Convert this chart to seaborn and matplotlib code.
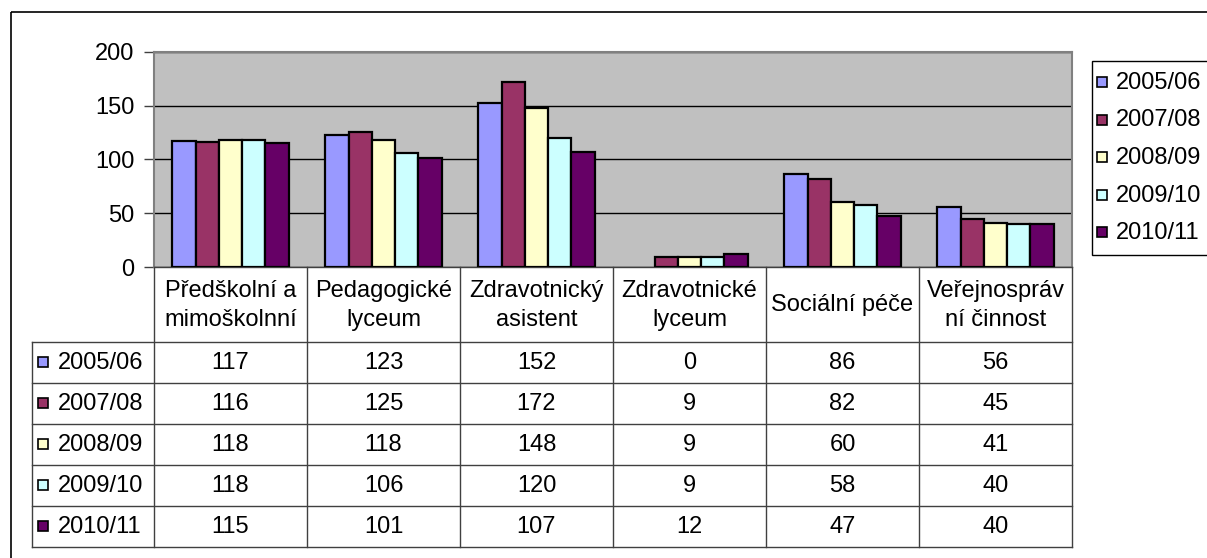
import pandas as pd
import matplotlib.pyplot as plt
import seaborn as sns
from matplotlib.patches import Rectangle

# Data
categories = ["Předškolní a\nmimoškolnní", "Pedagogické\nlyceum", "Zdravotnický\nasistent",
              "Zdravotnické\nlyceum", "Sociální péče", "Veřejnospráv\nní činnost"]
years = ["2005/06", "2007/08", "2008/09", "2009/10", "2010/11"]
v_2005 = [117, 123, 152, 0, 86, 56]
v_2007 = [116, 125, 172, 9, 82, 45]
v_2008 = [118, 118, 148, 9, 60, 41]
v_2009 = [118, 106, 120, 9, 58, 40]
v_2010 = [115, 101, 107, 12, 47, 40]
yticks = [0, 50, 100, 150, 200]
colors = ["#9999FF", "#993366", "#FFFFCC", "#CCFFFF", "#660066"]

series = [v_2005, v_2007, v_2008, v_2009, v_2010]
d = pd.DataFrame([(c, y, v) for y, vals in zip(years, series) for c, v in zip(categories, vals)],
                 columns=["obor", "rok", "pocet"])

plt.rcParams['font.family'] = ['Liberation Sans', 'DejaVu Sans']
FS = 17

W, H = 1207, 558
fig = plt.figure(figsize=(W / 100, H / 100), dpi=100)

# plot area in pixels
L, R, T, B = 154, 1072, 51.7, 267
ax = fig.add_axes([L / W, 1 - B / H, (R - L) / W, (B - T) / H])
ax.set_facecolor("#C0C0C0")
sns.barplot(data=d, x="obor", y="pocet", hue="rok", palette=colors, saturation=1,
            width=0.76, edgecolor="black", linewidth=1.6, legend=False, ax=ax, zorder=3)
# zero-height bars are not drawn in the original
for p in ax.patches:
    if p.get_height() == 0:
        p.set_visible(False)
ax.set_xlim(-0.5, len(categories) - 0.5)
ax.set_ylim(0, 200)
ax.set_yticks(yticks)
ax.set_yticklabels([str(t) for t in yticks], fontsize=FS)
ax.set_xticks([])
ax.set_xlabel("")
ax.set_ylabel("")
ax.grid(axis="y", color="black", linewidth=1, zorder=1)
ax.set_axisbelow(True)
ax.tick_params(axis="y", length=7, width=1, pad=7, color="#404040")
for s in ["top", "right", "left"]:
    ax.spines[s].set_color("#808080")
    ax.spines[s].set_linewidth(1.5)
ax.spines["bottom"].set_color("#404040")
ax.spines["bottom"].set_linewidth(1)

# overlay in pixel coordinates for table, legend and frame
ov = fig.add_axes([0, 0, 1, 1])
ov.set_xlim(0, W)
ov.set_ylim(H, 0)
ov.axis("off")

lc = "#404040"
cw = (R - L) / len(categories)
hdr_b = 341.7
row_h = 41
tab_b = hdr_b + row_h * len(years)
tab_l = 31.5

# vertical lines
for i in range(len(categories) + 1):
    x = L + i * cw
    ov.plot([x, x], [B, tab_b], color=lc, lw=1)
ov.plot([tab_l, tab_l], [hdr_b, tab_b], color=lc, lw=1)
# horizontal lines
for j in range(len(years) + 1):
    y = hdr_b + j * row_h
    ov.plot([tab_l, R], [y, y], color=lc, lw=1)

# category headers
for i, c in enumerate(categories):
    ov.text(L + (i + 0.5) * cw, (B + hdr_b) / 2 + 1, c, ha="center", va="center",
            fontsize=FS, linespacing=1.45)

# rows
for j, (yr, vals, col) in enumerate(zip(years, series, colors)):
    yc = hdr_b + (j + 0.5) * row_h
    ov.add_patch(Rectangle((38, yc - 5), 10, 10, facecolor=col, edgecolor="black", lw=1.2))
    ov.text(58, yc + 1, yr, ha="left", va="center", fontsize=FS)
    for i, v in enumerate(vals):
        ov.text(L + (i + 0.5) * cw, yc + 1, str(v), ha="center", va="center", fontsize=FS)

# legend
ov.add_patch(Rectangle((1092, 61), 200, 194, facecolor="white", edgecolor="black", lw=1))
for j, (yr, col) in enumerate(zip(years, colors)):
    yc = 82 + j * 37.5
    ov.add_patch(Rectangle((1097, yc - 5), 10, 10, facecolor=col, edgecolor="black", lw=1.2))
    ov.text(1116, yc + 1, yr, ha="left", va="center", fontsize=FS)

# outer frame
ov.add_patch(Rectangle((11, 12), 1300, 600, facecolor="none", edgecolor="black", lw=1.2))

fig.savefig("out.png", dpi=100)
